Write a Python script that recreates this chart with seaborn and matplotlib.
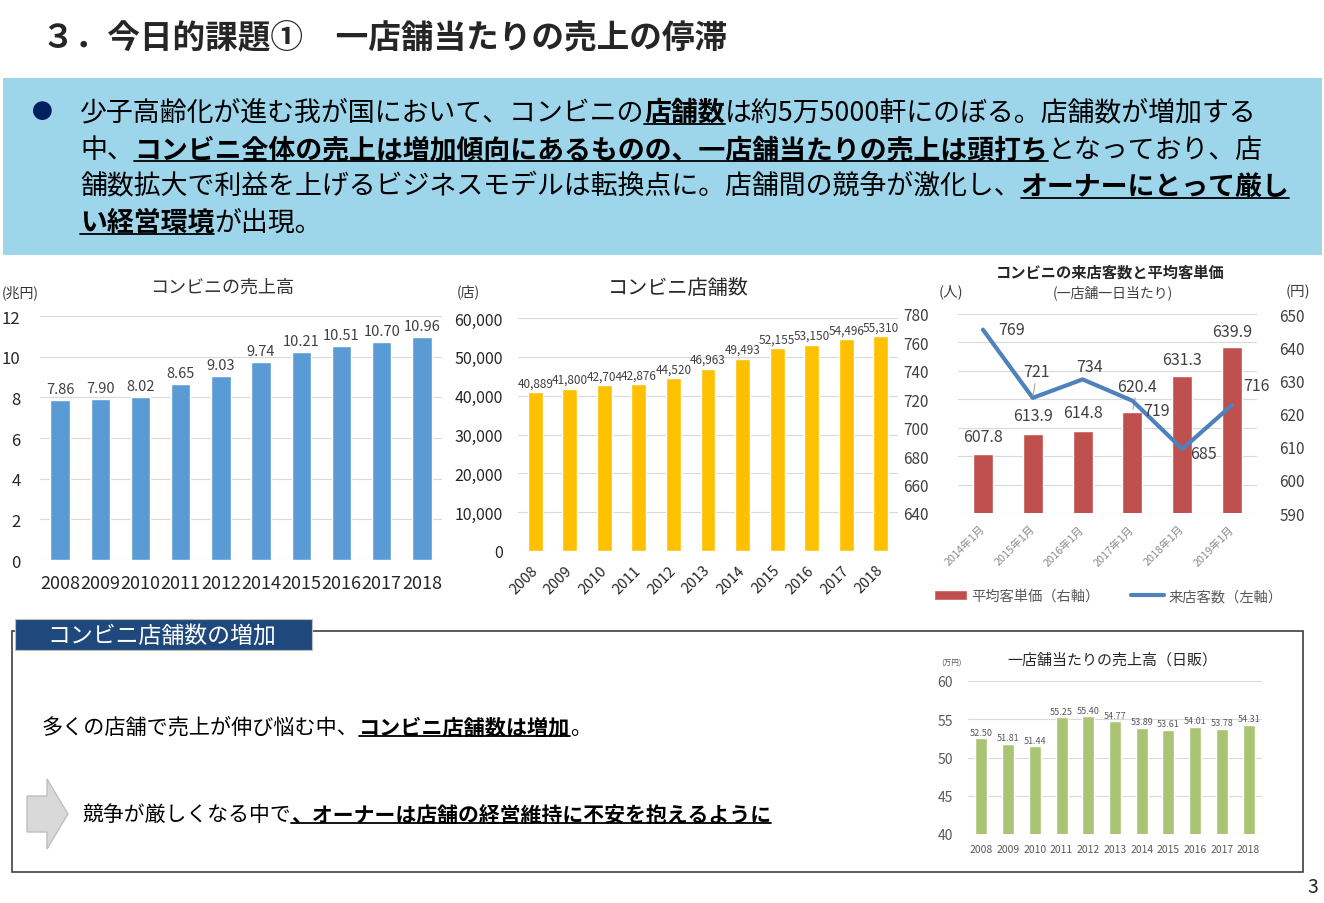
import numpy as np
import matplotlib
matplotlib.use("Agg")
import matplotlib.pyplot as plt
import seaborn as sns
from matplotlib.patches import Rectangle, Polygon, Patch
from matplotlib.lines import Line2D
from matplotlib.ticker import FuncFormatter

# Chart data
sales_years = ["2008", "2009", "2010", "2011", "2012", "2014", "2015", "2016", "2017", "2018"]
sales_trillion = [7.86, 7.90, 8.02, 8.65, 9.03, 9.74, 10.21, 10.51, 10.70, 10.96]

store_years = ["2008", "2009", "2010", "2011", "2012", "2013", "2014", "2015", "2016", "2017", "2018"]
store_counts = [40889, 41800, 42704, 42876, 44520, 46963, 49493, 52155, 53150, 54496, 55310]

visit_months = ["2014年1月", "2015年1月", "2016年1月", "2017年1月", "2018年1月", "2019年1月"]
avg_spend_yen = [607.8, 613.9, 614.8, 620.4, 631.3, 639.9]
visitors = [769, 721, 734, 719, 685, 716]

daily_sales_man = [52.50, 51.81, 51.44, 55.25, 55.40, 54.77, 53.89, 53.61, 54.01, 53.78, 54.31]

# label placement for the combo chart (pixel offsets, leader line flag)
spend_label_pos = [(0, 17, False), (0, 18, False), (0, 18, False), (5, 26, True), (0, 17, False), (0, 16, False)]
visitor_label_pos = [(29, 0, False), (4, 26, True), (7, 13, False), (24, -10, False), (21, -4, False), (24, 19, False)]

W, H = 1324, 904
sns.set_style("white")
plt.rcParams["font.family"] = ["Noto Sans CJK JP", "DejaVu Sans"]

fig = plt.figure(figsize=(W / 100, H / 100), dpi=100)
fig.patch.set_facecolor("white")
renderer = fig.canvas.get_renderer()


def fx(x):
    return x / W


def fy(y):
    return 1 - y / H


def box(left, top, right, bottom):
    return [fx(left), fy(bottom), (right - left) / W, (bottom - top) / H]


def write_runs(x, y, runs, size):
    # strong runs are bold + underlined, like the slide
    for text, strong in runs:
        t = fig.text(fx(x), fy(y), text, fontsize=size, fontweight="bold" if strong else "normal",
                     va="center", ha="left", color="black")
        bb = t.get_window_extent(renderer)
        if strong:
            fig.add_artist(Line2D([bb.x0 / W, bb.x1 / W], [(bb.y0 + 2) / H] * 2, color="black", lw=1.3))
        x = bb.x1


def style_axes(ax):
    for s in ax.spines.values():
        s.set_visible(False)
    ax.yaxis.grid(True, color="#D9D9D9", lw=0.8)
    ax.xaxis.grid(False)
    ax.set_axisbelow(True)
    ax.tick_params(length=0)
    ax.set_xlabel("")
    ax.set_ylabel("")


# Header and blue box
fig.text(fx(42), fy(38), "３．今日的課題①　一店舗当たりの売上の停滞", fontsize=23.5, fontweight="bold", va="center")
fig.add_artist(Rectangle((fx(3), fy(256)), 1319 / W, 177 / H, transform=fig.transFigure,
                         facecolor="#9DD5EA", edgecolor="none", zorder=0))
fig.text(fx(42), fy(113), "●", fontsize=15, color="#002060", va="center", ha="center")
write_runs(80, 113, [("少子高齢化が進む我が国において、コンビニの", False), ("店舗数", True),
                     ("は約5万5000軒にのぼる。店舗数が増加する", False)], 19.4)
write_runs(80, 150, [("中、", False), ("コンビニ全体の売上は増加傾向にあるものの、一店舗当たりの売上は頭打ち", True),
                     ("となっており、店", False)], 19.4)
write_runs(80, 187, [("舗数拡大で利益を上げるビジネスモデルは転換点に。店舗間の競争が激化し、", False),
                     ("オーナーにとって厳し", True)], 19.4)
write_runs(80, 223, [("い経営環境", True), ("が出現。", False)], 19.4)

# Chart 1: total sales
ax1 = fig.add_axes(box(40, 317, 442, 561))
sns.barplot(x=sales_years, y=sales_trillion, color="#5B9BD5", saturation=1, width=0.48, errorbar=None, ax=ax1)
style_axes(ax1)
ax1.set_ylim(0, 12)
ax1.set_yticks(range(0, 13, 2))
ax1.bar_label(ax1.containers[0], labels=[f"{v:.2f}" for v in sales_trillion], padding=3, fontsize=10.5, color="#404040")
ax1.tick_params(axis="y", pad=14, labelsize=12, labelcolor="#262626")
ax1.tick_params(axis="x", pad=10, labelsize=13, labelcolor="#262626")
fig.text(fx(222), fy(288), "コンビニの売上高", ha="center", va="center", fontsize=13, color="#333333")
fig.text(fx(2), fy(293), "(兆円)", ha="left", va="center", fontsize=10, color="#333333")

# Chart 2: store count
ax2 = fig.add_axes(box(518, 319, 898, 552))
sns.barplot(x=store_years, y=store_counts, color="#FFC000", saturation=1, width=0.43, errorbar=None, ax=ax2)
style_axes(ax2)
ax2.set_ylim(0, 60000)
ax2.set_yticks(range(0, 60001, 10000))
ax2.yaxis.set_major_formatter(FuncFormatter(lambda v, _: f"{int(v):,}"))
ax2.bar_label(ax2.containers[0], labels=[f"{v:,}" for v in store_counts], padding=2, fontsize=8.5, color="#404040")
ax2.tick_params(axis="y", pad=11, labelsize=11.5, labelcolor="#262626")
ax2.tick_params(axis="x", pad=12, labelsize=10.5, labelcolor="#262626")
for lab in ax2.get_xticklabels():
    lab.set_rotation(45)
    lab.set_ha("right")
    lab.set_va("center")
    lab.set_rotation_mode("anchor")
fig.text(fx(678), fy(288), "コンビニ店舗数", ha="center", va="center", fontsize=14.5, color="#262626")
fig.text(fx(457), fy(292), "(店)", ha="left", va="center", fontsize=10, color="#333333")

# Chart 3: visitors (line, left) and average spend (bars, right)
ax3b = fig.add_axes(box(958, 315, 1257, 514))
ax3 = fig.add_axes(box(958, 315, 1257, 514))
ax3.set_zorder(ax3b.get_zorder() + 1)
ax3.patch.set_visible(False)
sns.barplot(x=visit_months, y=avg_spend_yen, color="#C0504D", saturation=1, width=0.4, errorbar=None, ax=ax3b)
pos = np.arange(len(visit_months))
sns.lineplot(x=pos, y=visitors, color="#4F81BD", lw=3, ax=ax3)
for a in (ax3, ax3b):
    for s in a.spines.values():
        s.set_visible(False)
    a.set_xlim(-0.5, len(visit_months) - 0.5)
    a.set_xlabel("")
    a.set_ylabel("")
    a.tick_params(length=0)
ax3.set_ylim(640, 780)
ax3.set_yticks(range(640, 781, 20))
ax3b.set_ylim(590, 650)
ax3b.set_yticks(range(590, 651, 10))
ax3b.yaxis.tick_right()
ax3b.tick_params(axis="y", pad=16, labelsize=11, labelcolor="#404040")
ax3b.set_xticks([])
ax3b.grid(False)
ax3.grid(False)
for v in ax3.get_yticks():
    ax3b.add_line(Line2D([0, 1], [v, v], transform=ax3.get_yaxis_transform(), color="#D9D9D9", lw=0.8, zorder=0))
ax3.set_xticks(pos)
ax3.set_xticklabels(visit_months)
ax3.tick_params(axis="y", pad=21, labelsize=11, labelcolor="#404040")
ax3.tick_params(axis="x", pad=10, labelsize=7.8, labelcolor="#8C8C8C")
for lab in ax3.get_xticklabels():
    lab.set_rotation(45)
    lab.set_ha("right")
    lab.set_va("center")
    lab.set_rotation_mode("anchor")
leader = dict(arrowstyle="-", color="#A6A6A6", lw=0.8, shrinkA=0, shrinkB=2)
for i, v in enumerate(avg_spend_yen):
    dx, dy, lead = spend_label_pos[i]
    ax3b.annotate(f"{v:.1f}", (i, v), xytext=(dx, dy), textcoords="offset pixels", ha="center", va="center",
                  fontsize=11.5, color="#404040", arrowprops=leader if lead else None)
for i, v in enumerate(visitors):
    dx, dy, lead = visitor_label_pos[i]
    ax3.annotate(f"{v}", (i, v), xytext=(dx, dy), textcoords="offset pixels", ha="center", va="center",
                 fontsize=11.5, color="#404040", arrowprops=leader if lead else None)
fig.text(fx(1110), fy(273), "コンビニの来店客数と平均客単価", ha="center", va="center", fontsize=11, fontweight="bold")
fig.text(fx(1113), fy(293), "(一店舗一日当たり)", ha="center", va="center", fontsize=10, color="#404040")
fig.text(fx(951), fy(292), "(人)", ha="center", va="center", fontsize=10.5, color="#404040")
fig.text(fx(1298), fy(292), "(円)", ha="center", va="center", fontsize=10.5, color="#404040")
fig.legend(handles=[Patch(facecolor="#C0504D", label="平均客単価（右軸）"),
                    Line2D([], [], color="#4F81BD", lw=3, label="来店客数（左軸）")],
           loc="center", bbox_to_anchor=(fx(1108), fy(597)), ncol=2, frameon=False, fontsize=10.3,
           handlelength=2.3, columnspacing=2.2, handletextpad=0.3, labelcolor="#595959")

# Bottom box
fig.add_artist(Rectangle((fx(12), fy(873)), 1291 / W, 241 / H, transform=fig.transFigure,
                         facecolor="none", edgecolor="#404040", lw=1.2))
fig.add_artist(Rectangle((fx(15), fy(651)), 297 / W, 31 / H, transform=fig.transFigure,
                         facecolor="#1F497D", edgecolor="#BFBFBF", lw=0.8))
fig.text(fx(47), fy(636), "コンビニ店舗数の増加", ha="left", va="center", fontsize=16.5, color="white")
write_runs(42, 728, [("多くの店舗で売上が伸び悩む中、", False), ("コンビニ店舗数は増加", True), ("。", False)], 15.2)
arrow_pts = [(27, 797), (47, 797), (47, 780), (68, 815), (47, 850), (47, 833), (27, 833)]
fig.add_artist(Polygon([(fx(a), fy(b)) for a, b in arrow_pts], closed=True, transform=fig.transFigure,
                       facecolor="#D9D9D9", edgecolor="#BFBFBF", lw=1))
write_runs(82, 815, [("競争が厳しくなる中で", False), ("、オーナーは店舗の経営維持に不安を抱えるように", True)], 15)

# Chart 4: daily sales per store
ax4 = fig.add_axes(box(968, 682, 1262, 835))
sns.barplot(x=store_years, y=daily_sales_man, color="#A9C574", saturation=1, width=0.45, errorbar=None, ax=ax4)
style_axes(ax4)
ax4.set_ylim(40, 60)
ax4.set_yticks(range(40, 61, 5))
ax4.bar_label(ax4.containers[0], labels=[f"{v:.2f}" for v in daily_sales_man], padding=1, fontsize=6.5, color="#595959")
ax4.tick_params(axis="y", pad=11, labelsize=10, labelcolor="#595959")
ax4.tick_params(axis="x", pad=7, labelsize=7.5, labelcolor="#595959")
fig.text(fx(1112), fy(660), "一店舗当たりの売上高（日販）", ha="center", va="center", fontsize=10.8, color="#262626")
fig.text(fx(952), fy(664), "(万円)", ha="center", va="center", fontsize=5.5, color="#595959")

fig.text(fx(1313), fy(888), "3", ha="center", va="center", fontsize=14)

fig.savefig("out.png", dpi=100)
